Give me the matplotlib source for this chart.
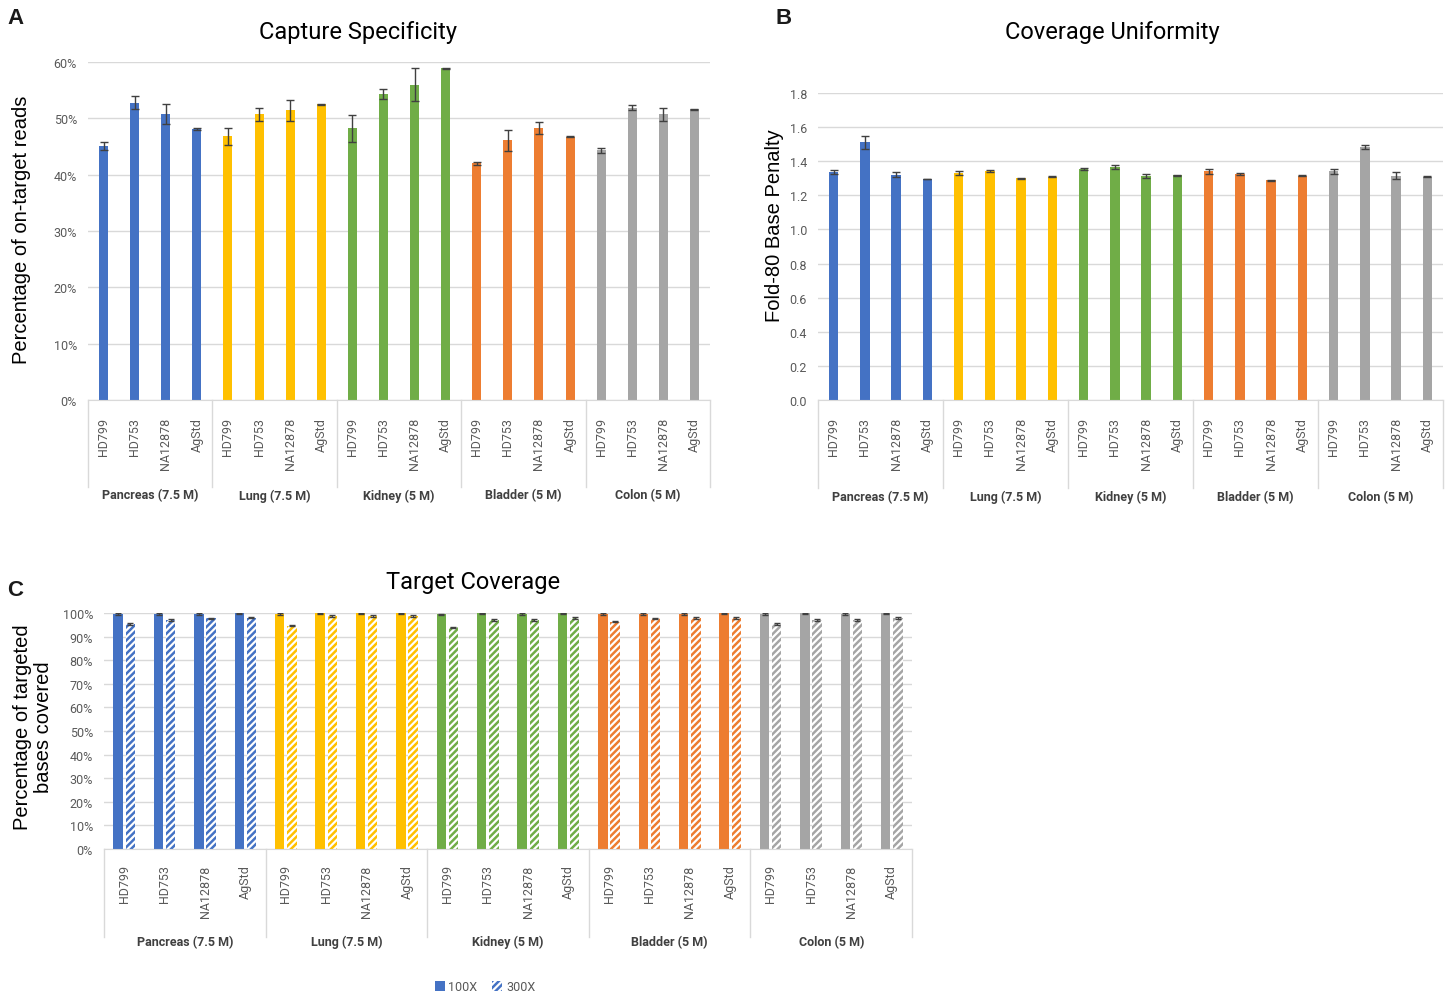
import matplotlib
matplotlib.use('Agg')
import matplotlib.pyplot as plt
from matplotlib.patches import Patch
import numpy as np

plt.rcParams['font.family'] = ['Roboto', 'DejaVu Sans']
plt.rcParams['hatch.linewidth'] = 1.8

groups = ['Pancreas (7.5 M)', 'Lung (7.5 M)', 'Kidney (5 M)', 'Bladder (5 M)', 'Colon (5 M)']
samples = ['HD799', 'HD753', 'NA12878', 'AgStd']
colors = ['#4472C4', '#FFC000', '#70AD47', '#ED7D31', '#A5A5A5']

# capture specificity (% on-target reads), per group, per sample
spec = [[45.1, 52.8, 50.8, 48.1],
        [46.8, 50.7, 51.4, 52.5],
        [48.2, 54.3, 56.0, 58.9],
        [42.0, 46.1, 48.3, 46.7],
        [44.3, 51.9, 50.7, 51.6]]
spec_err = [[0.7, 1.1, 1.8, 0.1],
            [1.5, 1.2, 1.8, 0.1],
            [2.4, 0.9, 3.0, 0.1],
            [0.3, 1.9, 1.1, 0.1],
            [0.4, 0.5, 1.2, 0.1]]

# fold-80 base penalty
fold80 = [[1.338, 1.510, 1.322, 1.295],
          [1.332, 1.340, 1.299, 1.309],
          [1.354, 1.367, 1.313, 1.318],
          [1.340, 1.324, 1.287, 1.316],
          [1.340, 1.484, 1.314, 1.309]]
fold80_err = [[0.010, 0.040, 0.015, 0.002],
              [0.010, 0.006, 0.005, 0.002],
              [0.004, 0.012, 0.012, 0.002],
              [0.012, 0.005, 0.004, 0.002],
              [0.012, 0.012, 0.020, 0.002]]

# target coverage (%), 100X and 300X
cov100 = [[99.5, 99.5, 99.5, 99.9],
          [99.5, 99.9, 99.9, 99.9],
          [99.4, 99.8, 99.6, 99.9],
          [99.5, 99.5, 99.6, 99.8],
          [99.5, 99.8, 99.5, 99.8]]
cov300 = [[95.4, 97.1, 97.7, 98.0],
          [94.7, 98.7, 98.7, 98.7],
          [93.9, 97.1, 97.1, 97.9],
          [96.3, 97.7, 97.9, 97.9],
          [95.3, 97.1, 97.1, 97.9]]
cov_err = 0.3

W, H = 1448, 995
fig = plt.figure(figsize=(W / 100, H / 100), dpi=100)


def box(l, t, r, b):
    return [l / W, 1 - b / H, (r - l) / W, (b - t) / H]


def style_axes(ax, sep_len, grp_y, pad):
    ax.set_xlim(-0.5, 19.5)
    ax.grid(axis='y', color='#D9D9D9', linewidth=1)
    ax.set_axisbelow(True)
    for s in ['top', 'right', 'left']:
        ax.spines[s].set_visible(False)
    ax.spines['bottom'].set_color('#D9D9D9')
    ax.tick_params(axis='y', length=0, labelsize=9, labelcolor='#595959', pad=8)
    ax.tick_params(axis='x', length=0, labelsize=9, labelcolor='#595959', pad=pad)
    ax.set_xticks(np.arange(20))
    ax.set_xticklabels(samples * 5, rotation=90, va='top')
    tr = ax.get_xaxis_transform()
    for g in range(6):
        ax.plot([g * 4 - 0.5, g * 4 - 0.5], [0, -sep_len], color='#D9D9D9',
                lw=1, transform=tr, clip_on=False)
    for g, name in enumerate(groups):
        ax.text(g * 4 + 1.5, grp_y, name, transform=tr, ha='center', va='center',
                fontsize=9, fontweight='bold', color='#404040')


def title(x, y, s):
    fig.text(x / W, 1 - y / H, s, fontsize=17, ha='center', va='center')


def letter(x, y, s):
    fig.text(x / W, 1 - y / H, s, fontsize=16, ha='center', va='center',
             family='Liberation Sans', fontweight='bold', color='#1a1a1a')


# ---- A: capture specificity
axA = fig.add_axes(box(88, 63, 710, 401))
for g in range(5):
    x = np.arange(4) + g * 4
    axA.bar(x, spec[g], width=0.29, color=colors[g], zorder=2)
    axA.errorbar(x, spec[g], yerr=spec_err[g], fmt='none', ecolor='#404040',
                 elinewidth=1, capsize=3, zorder=3)
axA.set_ylim(0, 60)
axA.set_yticks(range(0, 61, 10))
axA.set_yticklabels([f'{v}%' for v in range(0, 61, 10)])
style_axes(axA, 0.257, -0.281, 12)
axA.set_ylabel('Percentage of on-target reads', fontsize=14.5, family='Liberation Sans')
axA.yaxis.set_label_coords(-0.091, 0.505)
title(358, 32, 'Capture Specificity')
letter(15, 19, 'A')

# ---- B: coverage uniformity
axB = fig.add_axes(box(818, 94, 1443, 401))
for g in range(5):
    x = np.arange(4) + g * 4
    axB.bar(x, fold80[g], width=0.3, color=colors[g], zorder=2)
    axB.errorbar(x, fold80[g], yerr=fold80_err[g], fmt='none', ecolor='#404040',
                 elinewidth=1, capsize=3, zorder=3)
axB.set_ylim(0, 1.8)
axB.set_yticks(np.arange(0, 1.81, 0.2))
axB.set_yticklabels([f'{v:.1f}' for v in np.arange(0, 1.81, 0.2)])
style_axes(axB, 0.287, -0.313, 12)
axB.set_ylabel('Fold-80 Base Penalty', fontsize=14.5, family='Liberation Sans')
axB.yaxis.set_label_coords(-0.054, 0.57)
title(1112, 32, 'Coverage Uniformity')
letter(784, 19, 'B')

# ---- C: target coverage
axC = fig.add_axes(box(104, 614, 912, 850))
for g in range(5):
    x = np.arange(4) + g * 4
    axC.bar(x - 0.15, cov100[g], width=0.23, color=colors[g], zorder=2)
    axC.bar(x + 0.15, cov300[g], width=0.23, facecolor='white', edgecolor=colors[g],
            hatch='/////', linewidth=0, zorder=2)
    axC.errorbar(x - 0.15, cov100[g], yerr=cov_err, fmt='none', ecolor='#404040',
                 elinewidth=1, capsize=2.5, zorder=3)
    axC.errorbar(x + 0.15, cov300[g], yerr=cov_err, fmt='none', ecolor='#404040',
                 elinewidth=1, capsize=2.5, zorder=3)
axC.set_ylim(0, 100)
axC.set_yticks(range(0, 101, 10))
axC.set_yticklabels([f'{v}%' for v in range(0, 101, 10)])
style_axes(axC, 0.373, -0.39, 11)
axC.set_ylabel('Percentage of targeted\nbases covered', fontsize=14.5,
               family='Liberation Sans', linespacing=1.15)
axC.yaxis.set_label_coords(-0.063, 0.52)
title(473, 582, 'Target Coverage')
letter(15, 590, 'C')

handles = [Patch(facecolor=colors[0], edgecolor=colors[0], linewidth=0, label='100X'),
           Patch(facecolor='white', edgecolor=colors[0], hatch='/////', linewidth=0, label='300X')]
fig.legend(handles=handles, loc='center', bbox_to_anchor=(485 / W, 1 - 988 / H), ncol=2,
           frameon=False, fontsize=9, labelcolor='#595959', handlelength=0.8,
           handleheight=0.8, handletextpad=0.3, columnspacing=1.2)

fig.savefig('out.png', dpi=100)
